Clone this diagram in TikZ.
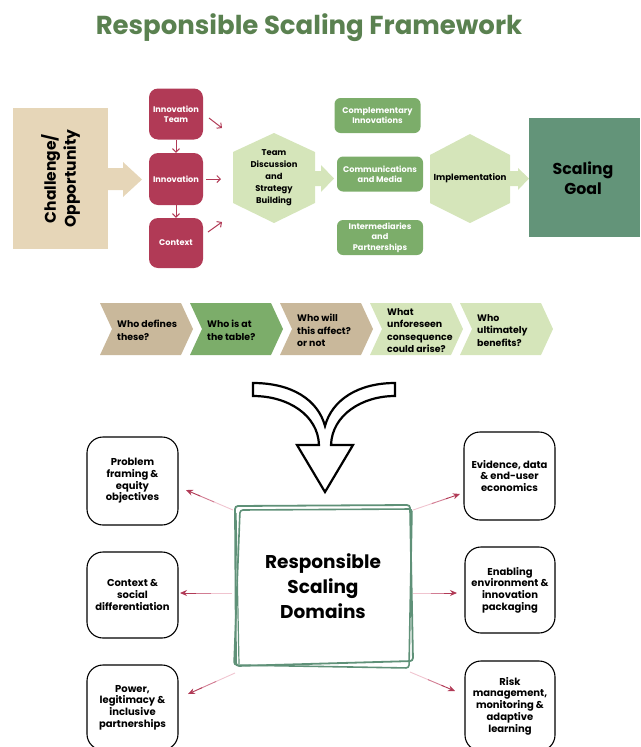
\documentclass[tikz,border=0pt]{standalone}
\usepackage{fontspec}
\setmainfont{Poppins}[BoldFont={Poppins Bold}]
\usetikzlibrary{arrows.meta,calc}
\definecolor{titlegreen}{HTML}{5A8150}
\definecolor{beige}{HTML}{E6D6B8}
\definecolor{tan}{HTML}{C9B89B}
\definecolor{crimson}{HTML}{B13A56}
\definecolor{midgreen}{HTML}{7CAD6A}
\definecolor{lightgreen}{HTML}{D5E5BA}
\definecolor{goalgreen}{HTML}{639479}
\definecolor{boxgreen}{HTML}{5F9178}
\definecolor{rpinkA}{HTML}{F0C4CF}
\definecolor{rpinkB}{HTML}{D27D93}
\newcommand\fs[2]{\fontsize{#1}{#2}\selectfont}
\newcommand\fadearr[2]{%
  \draw[line width=0.9pt, draw=rpinkA] (#1) -- ($(#1)!0.45!(#2)$);
  \draw[line width=0.9pt, draw=rpinkB] ($(#1)!0.4!(#2)$) -- ($(#1)!0.75!(#2)$);
  \draw[line width=0.9pt, draw=crimson, -{Stealth[length=7pt,width=6pt]}] ($(#1)!0.7!(#2)$) -- (#2);}
\tikzset{
  redbox/.style={fill=crimson, rounded corners=9pt, text=white, font=\bfseries\fs{8.2}{10.4}, align=center, minimum width=54pt, inner sep=0pt},
  greenbox/.style={fill=midgreen, rounded corners=6pt, text=white, font=\bfseries\fs{8.2}{10.4}, align=center, minimum width=86pt, minimum height=35pt, inner sep=0pt},
  outerbox/.style={draw=black, line width=1.1pt, rounded corners=16pt, fill=white, font=\bfseries\fs{10}{11.7}, align=center, minimum width=91pt, inner sep=0pt},
  thinred/.style={draw=crimson, line width=1pt, -{Straight Barb[length=3.5pt,width=7pt]}},
  chevtext/.style={anchor=west, font=\bfseries\fs{9.4}{12.6}, align=left, inner sep=0pt},
}
\begin{document}
\begin{tikzpicture}[x=1pt,y=-1pt]
\useasboundingbox (0,0) rectangle (640,747);
\begin{scope}
\clip (0,0) rectangle (640,747);

% title
\node[text=titlegreen, font=\bfseries\fs{26}{30}] (title) at (309,28) {Responsible Scaling Framework};

% challenge
\node[fill=beige, minimum width=95pt, minimum height=141pt, inner sep=0pt] (chal) at (60.5,178.5) {};
\node[rotate=90, font=\bfseries\fs{15.5}{20}, align=center] (chaltxt) at (chal.center) {Challenge/\\Opportunity};
\fill[beige] (108,168) -- (123,168) -- (123,162) -- (142,179.5) -- (123,197) -- (123,190) -- (108,190) -- cycle;

% red boxes
\node[redbox, minimum height=51pt] (rb1) at (176,114) {Innovation\\Team};
\node[redbox, minimum height=52pt] (rb2) at (176,179) {Innovation};
\node[redbox, minimum height=50pt] (rb3) at (176,243) {Context};
\draw[thinred] (rb1.south) -- (rb2.north);
\draw[thinred] (rb2.south) -- (rb3.north);

% hexagon 1
\fill[lightgreen] (274,133) -- (315,152) -- (315,203) -- (274,223) -- (233,203) -- (233,152) -- cycle;
\node[font=\bfseries\fs{8.4}{12}, align=center, inner sep=0pt] (team) at (274,178) {Team\\Discussion\\and\\Strategy\\Building};
\coordinate (d1s) at (209,118); \coordinate (d1e) at (222,128);
\coordinate (d2s) at (206,179); \coordinate (d2e) at (221,179);
\coordinate (d3s) at (208,232); \coordinate (d3e) at (222,222);
\draw[thinred] (d1s) -- (d1e);
\draw[thinred] (d2s) -- (d2e);
\draw[thinred] (d3s) -- (d3e);
\fill[lightgreen] (314,171) -- (321,171) -- (321,165) -- (334,178.5) -- (321,192) -- (321,186) -- (314,186) -- cycle;

% green boxes
\node[greenbox] (gb1) at (377.5,115.5) {Complementary\\Innovations};
\node[greenbox] (gb2) at (380,174) {Communications\\and Media};
\node[greenbox] (gb3) at (380,237.5) {Intermediaries\\and\\Partnerships};

% implementation hexagon
\fill[lightgreen] (470,134) -- (510,155) -- (510,203) -- (470,223) -- (430,203) -- (430,155) -- cycle;
\node[font=\bfseries\fs{8.7}{10}, inner sep=0pt] (impl) at (470,178.5) {Implementation};
\fill[lightgreen] (509,171) -- (518,171) -- (518,168) -- (529,178.5) -- (518,190) -- (518,186) -- (509,186) -- cycle;

% scaling goal
\node[fill=goalgreen, minimum width=111pt, minimum height=119pt, inner sep=0pt] (goal) at (584.5,177.5) {};
\node[font=\bfseries\fs{15.8}{20}, align=center, inner sep=0pt] (goaltxt) at (583,178) {Scaling\\Goal};

% chevrons
\foreach \xo/\col/\name/\txt in {100/tan/c1/{Who defines\\these?}, 190/midgreen/c2/{Who is at\\the table?}, 280/tan/c3/{Who will\\this affect?\\or not}, 370/lightgreen/c4/{What\\unforeseen\\consequence\\could arise?}, 460/lightgreen/c5/{Who\\ultimately\\benefits?}}{
  \fill[\col] (\xo,303) -- ({\xo+81},303) -- ({\xo+93},329) -- ({\xo+81},355) -- (\xo,355) -- ({\xo+12},329) -- cycle;
  \node[chevtext] (\name) at ({\xo+17},330.5) {\txt};
}

% big outline arrow
\draw[line width=2.2pt, fill=white, line join=miter] (253,383) .. controls (292,383) and (318,400) .. (325,426) .. controls (332,400) and (358,383) .. (395,383) -- (395,396) .. controls (362,396) and (332,415) .. (331,445) -- (353,445) -- (325,492) -- (297,445) -- (319,445) .. controls (318,415) and (288,396) .. (253,396) -- cycle;

% central sketch box
\node[minimum width=176pt, minimum height=160pt, inner sep=0pt, font=\bfseries\fs{18.5}{25}, align=center] (central) at (323,586) {Responsible\\Scaling\\Domains};
\draw[boxgreen, line width=1.8pt, rounded corners=3pt] (235,506) -- (410,505) -- (413,661) -- (236,666) -- cycle;
\draw[boxgreen, line width=1.6pt, rounded corners=3pt] (240,510) -- (412,509) -- (409,668) -- (234,665) -- cycle;
\draw[boxgreen, line width=1.2pt] (236,513) -- (239,664);

% outer boxes
\node[outerbox, minimum height=88pt] (pf) at (132.5,481) {Problem\\framing \&\\equity\\objectives};
\node[outerbox, minimum height=86pt] (cs) at (132.5,595) {Context \&\\social\\differentiation};
\node[outerbox, minimum height=85pt] (pw) at (132.5,707.5) {Power,\\legitimacy \&\\inclusive\\partnerships};
\node[outerbox, minimum height=88pt] (ev) at (509.5,476) {Evidence, data\\\& end-user\\economics};
\node[outerbox, minimum height=86pt, minimum width=90pt] (en) at (510,590) {Enabling\\environment \&\\innovation\\packaging};
\node[outerbox, minimum height=90pt, minimum width=90pt] (rk) at (510,706) {Risk\\management,\\monitoring \&\\adaptive\\learning};

% fading arrows
\coordinate (s1) at (233,510); \coordinate (e1) at (186,490);
\coordinate (s2) at (232,593); \coordinate (e2) at (180,593);
\coordinate (s3) at (235,673); \coordinate (e3) at (188,694);
\coordinate (s4) at (413,510); \coordinate (e4) at (460,494);
\coordinate (s5) at (413,593); \coordinate (e5) at (457,593);
\coordinate (s6) at (410,672); \coordinate (e6) at (455,691);
\fadearr{s1}{e1}
\fadearr{s2}{e2}
\fadearr{s3}{e3}
\fadearr{s4}{e4}
\fadearr{s5}{e5}
\fadearr{s6}{e6}
\end{scope}
\end{tikzpicture}
\end{document}
